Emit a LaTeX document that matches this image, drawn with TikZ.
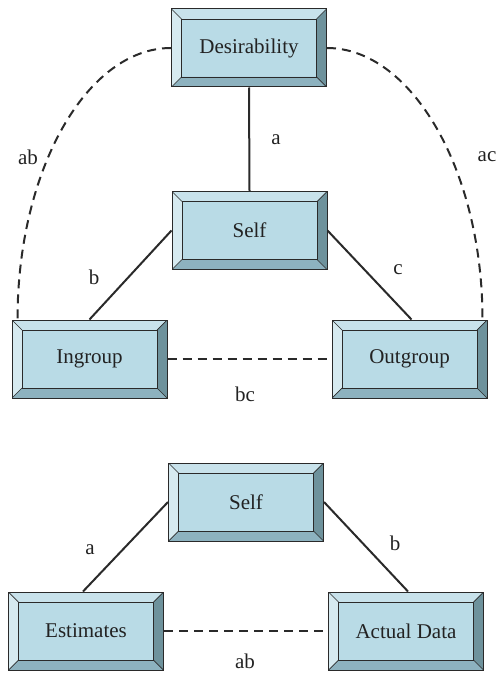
\documentclass[tikz,border=0pt]{standalone}
\usepackage{fontspec}
\setmainfont{Liberation Serif}
\usetikzlibrary{calc}
\definecolor{innerc}{HTML}{B9DBE6}
\definecolor{topc}{HTML}{C8E2EB}
\definecolor{leftc}{HTML}{D6EAF0}
\definecolor{rightc}{HTML}{6E929C}
\definecolor{botc}{HTML}{8DB2BF}
\definecolor{linec}{HTML}{2A2A2A}
\definecolor{textc}{HTML}{222222}
\tikzset{
  bevelbox/.style={draw=linec, line width=1pt, fill=innerc,
    minimum width=155pt, minimum height=78pt, inner sep=0pt,
    font=\fontsize{21}{25}\selectfont, text=textc,
    path picture={
      \coordinate (NW) at (path picture bounding box.north west);
      \coordinate (NE) at (path picture bounding box.north east);
      \coordinate (SW) at (path picture bounding box.south west);
      \coordinate (SE) at (path picture bounding box.south east);
      \coordinate (nw) at ($(NW)+(10pt,-10pt)$);
      \coordinate (ne) at ($(NE)+(-10pt,-10pt)$);
      \coordinate (sw) at ($(SW)+(10pt,10pt)$);
      \coordinate (se) at ($(SE)+(-10pt,10pt)$);
      \fill[topc] (NW) -- (NE) -- (ne) -- (nw) -- cycle;
      \fill[leftc] (NW) -- (SW) -- (sw) -- (nw) -- cycle;
      \fill[rightc] (NE) -- (SE) -- (se) -- (ne) -- cycle;
      \fill[botc] (SW) -- (SE) -- (se) -- (sw) -- cycle;
      \draw[linec, line width=0.9pt] (nw) rectangle (se);
      \draw[linec, line width=0.7pt] (NW) -- (nw) (NE) -- (ne) (SW) -- (sw) (SE) -- (se);
    }},
  conn/.style={draw=linec, line width=2pt},
  dconn/.style={draw=linec, line width=2pt, dash pattern=on 9pt off 6pt},
  lab/.style={font=\fontsize{21}{25}\selectfont, text=textc, inner sep=0pt}
}
\begin{document}
\begin{tikzpicture}[x=1pt, y=-1pt]
\useasboundingbox (0,0) rectangle (499,674);
% boxes
\node[bevelbox] (des) at (249,48) {Desirability};
\node[bevelbox] (s1) at (249.5,230.5) {Self};
\node[bevelbox] (ing) at (89.5,359) {Ingroup};
\node[bevelbox] (out) at (409.5,359) {Outgroup};
\node[bevelbox] (s2) at (246,502) {Self};
\node[bevelbox] (est) at (86,631) {Estimates};
\node[bevelbox] (act) at (406,631) {Actual Data};
% connectors top
\draw[conn] (des.south) -- (s1.north);
\draw[conn] (s1.west) -- (ing.north);
\draw[conn] (s1.east) -- ([xshift=2pt]out.north);
\draw[dconn] (ing.east) -- (out.west);
\draw[dconn] (des.west) .. controls +(-84pt,0pt) and +(0pt,150pt) .. ([xshift=6pt]ing.north west);
\draw[dconn] (des.east) .. controls +(84pt,0pt) and +(0pt,150pt) .. ([xshift=-5pt]out.north east);
% connectors bottom
\draw[conn] (s2.west) -- ([xshift=-3pt]est.north);
\draw[conn] (s2.east) -- ([xshift=2pt]act.north);
\draw[dconn] (est.east) -- (act.west);
% labels
\node[lab] (la) at (276,140) {a};
\node[lab] (lb) at (94,277) {b};
\node[lab] (lc) at (398,270) {c};
\node[lab] (lbc) at (245,394) {bc};
\node[lab] (lab1) at (28,157) {ab};
\node[lab] (lac) at (487,157) {ac};
\node[lab] (la2) at (90,550) {a};
\node[lab] (lb2) at (395,543) {b};
\node[lab] (lab2) at (245,661) {ab};
\end{tikzpicture}
\end{document}
